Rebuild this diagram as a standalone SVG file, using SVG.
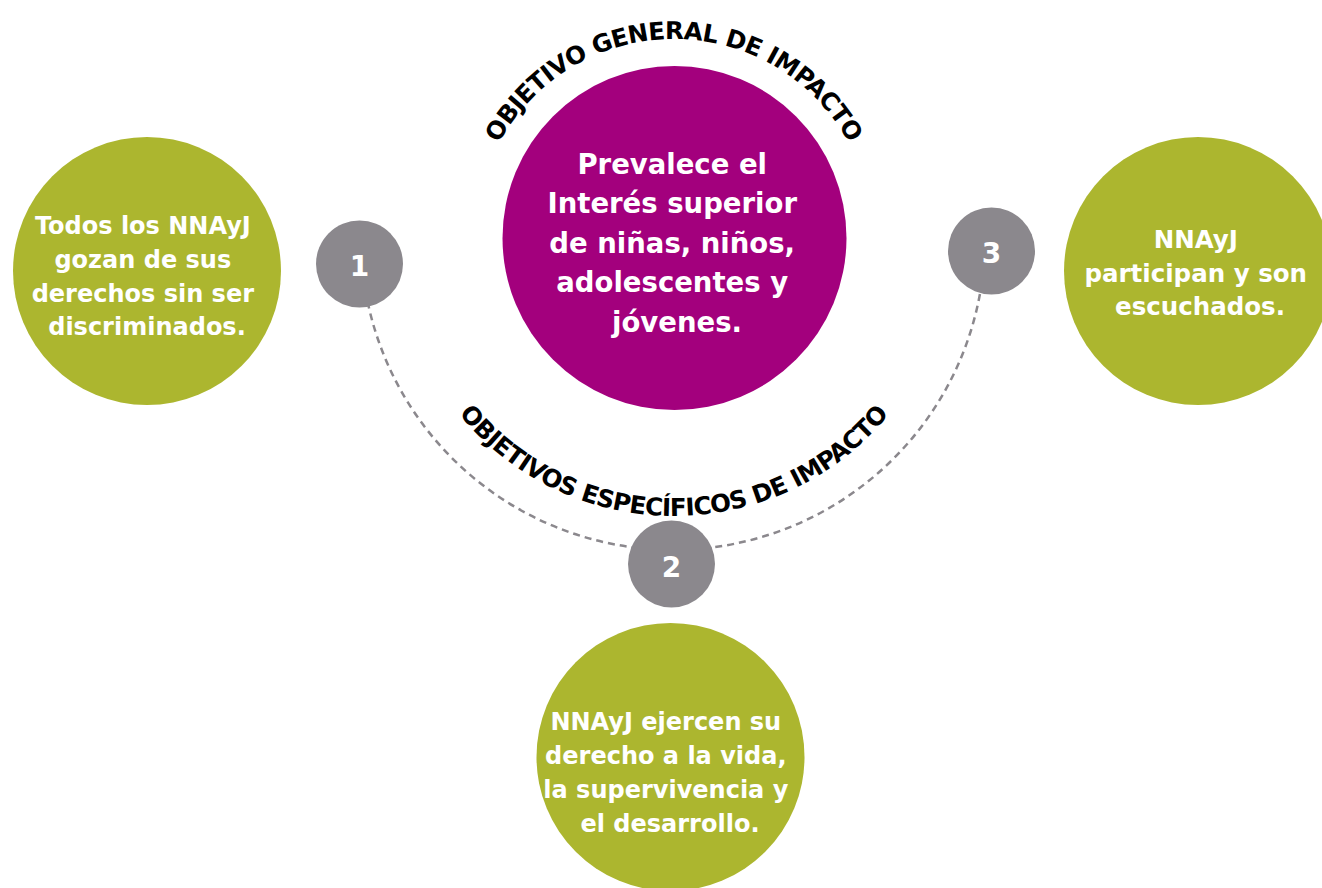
<svg xmlns="http://www.w3.org/2000/svg" width="1322" height="888" viewBox="0 0 1322 888">
<style>
.green{fill:#acb62f}
.mag{fill:#a3007d}
.gray{fill:#8b888d}
.lbl{font-family:"DejaVu Sans","Liberation Sans",sans-serif;font-weight:bold;fill:#ffffff;text-anchor:middle}
.arc{font-family:"DejaVu Sans","Liberation Sans",sans-serif;font-weight:bold;fill:#000000;font-size:24.5px}
.dash{fill:none;stroke:#8b888d;stroke-width:2.5;stroke-dasharray:7 5}
</style>
<defs>
<path id="topArc" d="M 475 238 A 199 199 0 0 1 873 238"/>
<path id="botArc" d="M 396 238 A 278 278 0 0 0 952 238"/>
</defs>
<rect width="1322" height="888" fill="#ffffff"/>
<g id="connectors">
<path class="dash" d="M 365.4 290 A 312 312 0 0 0 982.8 275"/>
</g>
<g id="node-general">
<circle class="mag" cx="674.5" cy="238" r="172"/>
<text class="lbl" font-size="27.5" x="677">
<tspan x="677" y="173.5">Prevalece el</tspan>
<tspan x="677" y="213">Interés superior</tspan>
<tspan x="677" y="252.7">de niñas, niños,</tspan>
<tspan x="677" y="292.3">adolescentes y</tspan>
<tspan x="677" y="332">jóvenes.</tspan>
</text>
</g>
<g id="title-general">
<text class="arc"><textPath href="#topArc" startOffset="50%" text-anchor="middle" textLength="428" lengthAdjust="spacing">OBJETIVO GENERAL DE IMPACTO</textPath></text>
</g>
<g id="title-especificos">
<text class="arc"><textPath href="#botArc" startOffset="50%" text-anchor="middle" textLength="492" lengthAdjust="spacing">OBJETIVOS ESPECÍFICOS DE IMPACTO</textPath></text>
</g>
<g id="node-1-text">
<circle class="green" cx="147" cy="271" r="134"/>
<text class="lbl" font-size="24">
<tspan x="147" y="234">Todos los NNAyJ</tspan>
<tspan x="147" y="268">gozan de sus</tspan>
<tspan x="147" y="301.5">derechos sin ser</tspan>
<tspan x="147" y="335">discriminados.</tspan>
</text>
</g>
<g id="node-3-text">
<circle class="green" cx="1198" cy="271" r="134"/>
<text class="lbl" font-size="24.5">
<tspan x="1200" y="247.5">NNAyJ</tspan>
<tspan x="1200" y="281.5">participan y son</tspan>
<tspan x="1200" y="314.5">escuchados.</tspan>
</text>
</g>
<g id="node-2-text">
<circle class="green" cx="670.5" cy="757" r="134"/>
<text class="lbl" font-size="24">
<tspan x="670" y="730">NNAyJ ejercen su</tspan>
<tspan x="670" y="764">derecho a la vida,</tspan>
<tspan x="670" y="798">la supervivencia y</tspan>
<tspan x="670" y="832">el desarrollo.</tspan>
</text>
</g>
<g id="num-1">
<circle class="gray" cx="359.5" cy="264" r="43.5"/>
<text class="lbl" font-size="28" x="359.5" y="275.5">1</text>
</g>
<g id="num-2">
<circle class="gray" cx="671.5" cy="564" r="43.5"/>
<text class="lbl" font-size="28" x="671.5" y="576.5">2</text>
</g>
<g id="num-3">
<circle class="gray" cx="991.5" cy="251" r="43.5"/>
<text class="lbl" font-size="28" x="991.5" y="262.5">3</text>
</g>
</svg>
